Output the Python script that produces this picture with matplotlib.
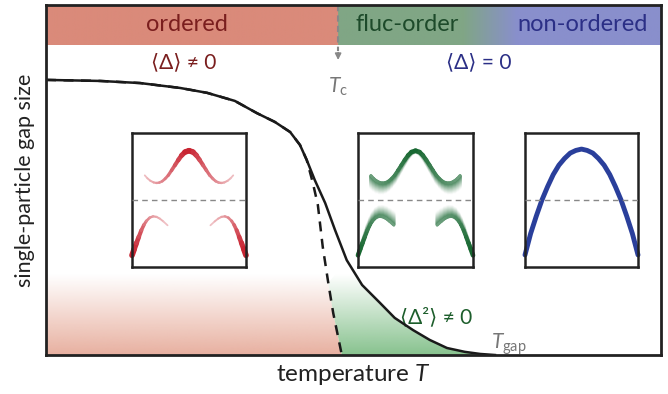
import numpy as np
import matplotlib.pyplot as plt
from matplotlib.collections import LineCollection
from matplotlib.colors import to_rgb
from matplotlib.patches import Polygon

plt.rcParams['font.family'] = ['Lato', 'DejaVu Sans']
plt.rcParams['mathtext.fontset'] = 'custom'
plt.rcParams['mathtext.rm'] = 'Lato'
plt.rcParams['mathtext.it'] = 'Lato:italic'

# gap size vs temperature (axis fractions)
temp_full = [0.000, 0.088, 0.153, 0.218, 0.262, 0.307, 0.343, 0.372, 0.397, 0.413,
             0.424, 0.437, 0.454, 0.470, 0.489, 0.514, 0.543, 0.567, 0.597, 0.624,
             0.652, 0.681, 0.706, 0.730]
gap_full = [0.786, 0.783, 0.777, 0.763, 0.749, 0.726, 0.691, 0.666, 0.637, 0.600,
            0.557, 0.500, 0.434, 0.357, 0.271, 0.200, 0.149, 0.106, 0.071, 0.043,
            0.020, 0.009, 0.003, 0.000]
# mean-field branch (dashed)
temp_mf = [0.000, 0.088, 0.153, 0.218, 0.262, 0.307, 0.343, 0.372, 0.397, 0.413,
           0.424, 0.434, 0.442, 0.450, 0.459, 0.467, 0.481]
gap_mf = [0.786, 0.783, 0.777, 0.763, 0.749, 0.726, 0.691, 0.666, 0.637, 0.600,
          0.557, 0.491, 0.429, 0.309, 0.206, 0.120, 0.000]

t_c = 0.475
fill_top = 0.23
phase_names = ['ordered', 'fluc-order', 'non-ordered']
phase_x = [0.229, 0.587, 0.873]
phase_text_colors = ['#7a1e1e', '#1d4a2a', '#2b2f86']

# inset bands (left half, inset fractions) and spectral weight along them
up_k = [0.112, 0.135, 0.160, 0.190, 0.215, 0.240, 0.265, 0.290, 0.318, 0.347,
        0.376, 0.405, 0.435, 0.465, 0.500]
up_e = [0.684, 0.662, 0.644, 0.631, 0.627, 0.630, 0.640, 0.658, 0.684, 0.721,
        0.759, 0.797, 0.833, 0.858, 0.868]
up_w = [0.15, 0.20, 0.25, 0.30, 0.35, 0.40, 0.45, 0.50, 0.55, 0.62,
        0.70, 0.78, 0.86, 0.94, 1.00]
low_k = [0.000, 0.020, 0.040, 0.060, 0.082, 0.105, 0.126, 0.155, 0.185, 0.215,
         0.244, 0.275, 0.312]
low_e = [0.087, 0.135, 0.180, 0.225, 0.274, 0.315, 0.343, 0.368, 0.378, 0.374,
         0.361, 0.340, 0.311]
low_w = [1.00, 0.95, 0.88, 0.80, 0.70, 0.60, 0.50, 0.42, 0.35, 0.30,
         0.25, 0.20, 0.12]
# unfolded band (non-ordered)
par_k = [0.00, 0.05, 0.10, 0.15, 0.20, 0.25, 0.30, 0.35, 0.40, 0.45, 0.50,
         0.55, 0.60, 0.65, 0.70, 0.75, 0.80, 0.85, 0.90, 0.95, 1.00]
par_e = [0.09, 0.25, 0.38, 0.50, 0.60, 0.69, 0.76, 0.81, 0.85, 0.87, 0.88,
         0.87, 0.85, 0.81, 0.76, 0.69, 0.60, 0.50, 0.38, 0.25, 0.09]

red = '#c71f2d'
green = '#15662f'
blue = '#2a3f9b'

fig = plt.figure(figsize=(6.68, 3.94), dpi=100)
W, H = 668, 394


def px_axes(x0, y0, x1, y1):
    return fig.add_axes([x0 / W, 1 - y1 / H, (x1 - x0) / W, (y1 - y0) / H])


ax = px_axes(46, 5, 661, 355)
ax.set_xlim(0, 1)
ax.set_ylim(0, 1)
ax.set_xticks([])
ax.set_yticks([])
for s in ax.spines.values():
    s.set_linewidth(2)
    s.set_color('#222222')
    s.set_zorder(10)

# phase stripe on top
xs = np.linspace(0, 1, 800)
c_red = np.array([218, 138, 122]) / 255
c_green = np.array([128, 166, 133]) / 255
c_blue = np.array([137, 143, 204]) / 255
f = np.clip((xs - 0.678) / (0.766 - 0.678), 0, 1)[:, None]
stripe = np.where((xs < t_c)[:, None], c_red, c_green * (1 - f) + c_blue * f)
ax.imshow(stripe[None, :, :], extent=[0, 1, 0.886, 1], aspect='auto', zorder=1)
for name, x, c in zip(phase_names, phase_x, phase_text_colors):
    ax.text(x, 0.943, name, color=c, fontsize=17, ha='center', va='center', zorder=3)

# gradient fills under the curves (transparent at top)
ramp = np.linspace(0, 1, 200)
red_img = np.zeros((200, 1, 4))
red_img[..., :3] = np.array([232, 176, 160]) / 255
red_img[..., 3] = ramp[:, None]
green_img = np.zeros((200, 1, 4))
green_img[..., :3] = np.array([135, 194, 142]) / 255
green_img[..., 3] = ramp[:, None]

x_mf_top = np.interp(fill_top, gap_mf[::-1], temp_mf[::-1])
mf_low = [(x, y) for x, y in zip(temp_mf, gap_mf) if y < fill_top]
red_poly = Polygon([(0, 0), (0, fill_top), (x_mf_top, fill_top)] + mf_low,
                   closed=True, transform=ax.transData, fc='none', ec='none')
ax.add_patch(red_poly)
im = ax.imshow(red_img, extent=[0, 0.6, 0, fill_top], aspect='auto', zorder=1)
im.set_clip_path(red_poly)

full_low = [(x, y) for x, y in zip(temp_full, gap_full) if y < 0.3]
mf_mid = [(x, y) for x, y in zip(temp_mf, gap_mf) if y < 0.3]
green_poly = Polygon(mf_mid[::-1] + full_low, closed=True,
                     transform=ax.transData, fc='none', ec='none')
ax.add_patch(green_poly)
im2 = ax.imshow(green_img, extent=[0.4, 0.8, 0, fill_top], aspect='auto', zorder=1)
im2.set_clip_path(green_poly)

# curves
ax.plot(temp_full, gap_full, color='#1a1a1a', lw=1.8, zorder=4)
ax.plot(temp_mf, gap_mf, color='#1a1a1a', lw=1.8, ls=(0, (4, 3)), zorder=4)

# Tc marker
ax.plot([t_c, t_c], [1, 0.87], color='#888888', lw=1.5, ls=(0, (3, 2)), zorder=5)
ax.annotate('', xy=(t_c, 0.835), xytext=(t_c, 0.872),
            arrowprops=dict(arrowstyle='-|>', color='#888888', lw=1.2,
                            mutation_scale=9), zorder=5)
ax.text(t_c, 0.765, r'$T_\mathrm{c}$', color='#777777', fontsize=15,
        ha='center', va='center')

ax.text(0.224, 0.837, '⟨Δ⟩ ≠ 0', color='#7a1e1e', fontsize=15, ha='center', va='center')
ax.text(0.703, 0.837, '⟨Δ⟩ = 0', color='#2b2f86', fontsize=15, ha='center', va='center')
ax.text(0.635, 0.109, '⟨Δ²⟩ ≠ 0', color='#1d5e2c', fontsize=15, ha='center', va='center')
ax.text(0.724, 0.03, r'$T_\mathrm{gap}$', color='#777777', fontsize=15,
        ha='left', va='center')

ax.set_xlabel('temperature $T$', fontsize=17.5, color='#222222', labelpad=5)
ax.set_ylabel('single-particle gap size', fontsize=15.5, color='#222222', labelpad=8)


def both_halves(k, e, w):
    k = np.asarray(k)
    e = np.asarray(e)
    w = np.asarray(w)
    kk = np.concatenate([k, 1 - k[::-1]])
    ee = np.concatenate([e, e[::-1]])
    ww = np.concatenate([w, w[::-1]])
    return kk, ee, ww


def weighted_line(axi, k, e, w, color, shade=None, lw_min=1.0, lw_max=4.2, z=2):
    # shade = how far the colour is from white (opaque, so overlaps stay clean)
    if shade is None:
        shade = w
    pts = np.column_stack([k, e])
    segs = np.stack([pts[:-1], pts[1:]], axis=1)
    wm = (w[:-1] + w[1:]) / 2
    sm = np.clip((shade[:-1] + shade[1:]) / 2, 0, 1)
    # skip the joining segment between the two halves of the lower band
    keep = np.abs(np.diff(k)) < 0.1
    c = np.array(to_rgb(color))
    rgb = 1 - sm[keep, None] * (1 - c)
    lc = LineCollection(segs[keep], colors=rgb,
                        linewidths=lw_min + (lw_max - lw_min) * wm[keep] ** 2,
                        capstyle='round', clip_on=False, zorder=z)
    axi.add_collection(lc)


def inset(x0, x1):
    a = px_axes(x0, 133, x1, 267)
    a.set_xlim(0, 1)
    a.set_ylim(0, 1)
    a.set_xticks([])
    a.set_yticks([])
    a.patch.set_alpha(0)
    for s in a.spines.values():
        s.set_linewidth(1.8)
        s.set_color('#222222')
    a.axhline(0.5, color='#888888', lw=1, ls=(0, (4, 3)), zorder=5)
    return a


uk, ue, uw = both_halves(up_k, up_e, up_w)
lk, le, lw_ = both_halves(low_k, low_e, low_w)

a1 = inset(132, 246)
weighted_line(a1, uk, ue, 0.15 + 0.85 * uw, red)
weighted_line(a1, lk, le, 0.15 + 0.85 * lw_, red)

a2 = inset(358, 473)
n_smear = 24
for j in range(n_smear, 0, -1):
    frac = j / n_smear
    tone = (1 - frac) ** 1.2 * 0.75
    weighted_line(a2, uk, ue - frac * (0.10 * (1 - uw) + 0.01), np.ones_like(uw),
                  green, shade=tone * np.ones_like(uw), lw_min=2.2, lw_max=2.2)
    weighted_line(a2, lk, le + frac * (0.10 * (1 - lw_) + 0.01), np.ones_like(lw_),
                  green, shade=tone * np.ones_like(lw_), lw_min=2.2, lw_max=2.2)
weighted_line(a2, uk, ue, 0.3 + 0.7 * uw, green, shade=0.55 + 0.45 * uw,
              lw_min=1.6, lw_max=3.4)
weighted_line(a2, lk, le, 0.3 + 0.7 * lw_, green, shade=0.55 + 0.45 * lw_,
              lw_min=1.6, lw_max=3.4)

a3 = inset(525, 638)
a3.plot(par_k, par_e, color=blue, lw=3.5, solid_capstyle='round', clip_on=False)

fig.savefig('out.png', dpi=100)
